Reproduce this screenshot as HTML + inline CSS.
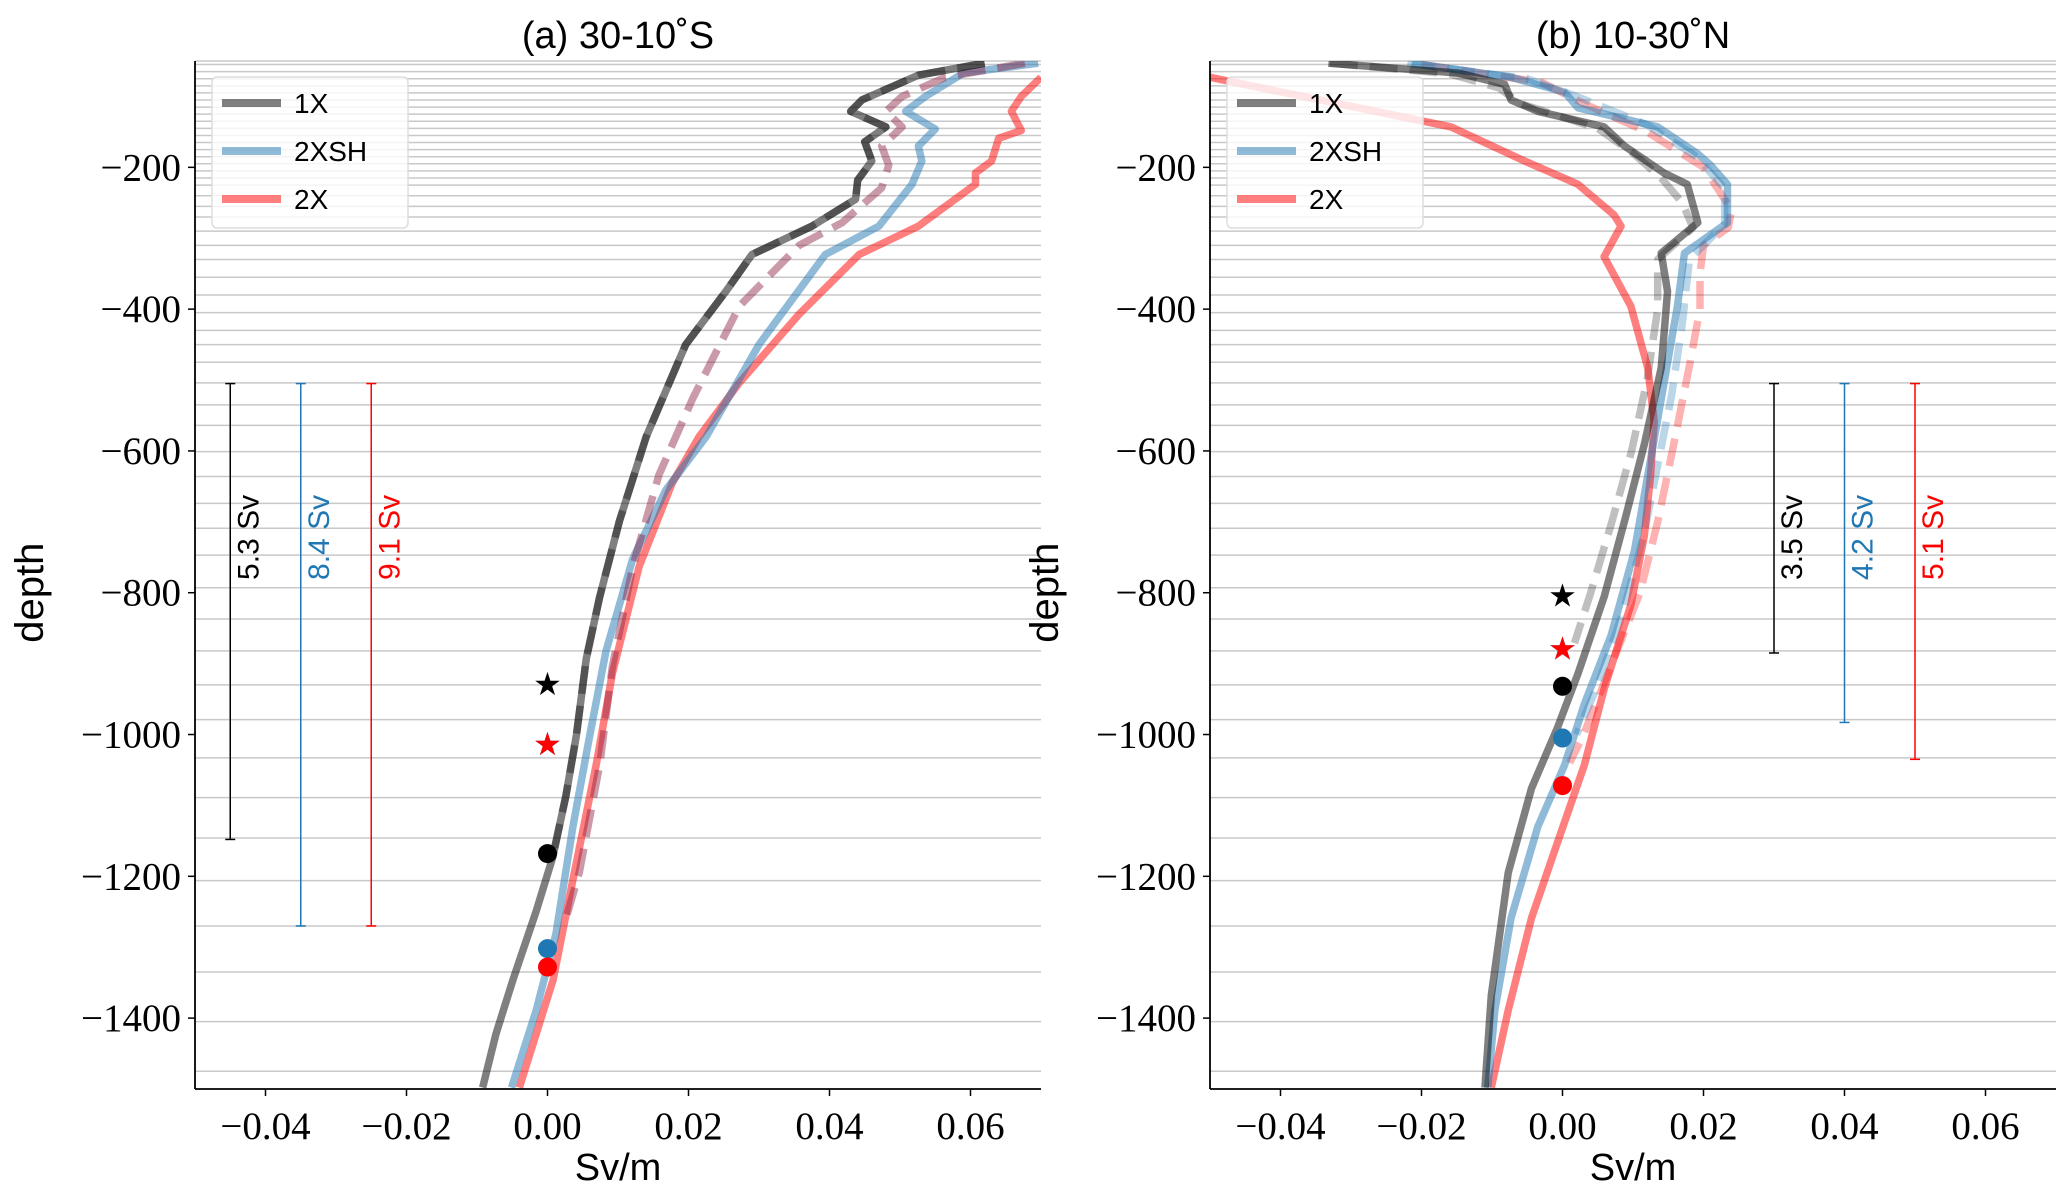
<!DOCTYPE html>
<html><head><meta charset="utf-8"><style>
body{margin:0;background:#fff}
svg text{font-family:"Liberation Sans",sans-serif}
.tick{font-family:"Liberation Serif",serif;font-size:39px}
</style></head><body>
<svg id="c" width="2067" height="1196" xmlns="http://www.w3.org/2000/svg"></svg>
<script>
const levels=[55,65,75,85,95,105,115,125,135,145,155,165,175,185,195,205,215,225,240,255,270,290,310,330,355,380,405,430,450,475,504,535,564,601,636,674,709,747,793,837,882,930,979,1033,1089,1146,1206,1270,1335,1405,1475];
const xTicks=[-0.04,-0.02,0,0.02,0.04,0.06];
const xTickLabels=['\u22120.04','\u22120.02','0.00','0.02','0.04','0.06'];
const yTicks=[-200,-400,-600,-800,-1000,-1200,-1400];
const yTickLabels=['\u2212200','\u2212400','\u2212600','\u2212800','\u22121000','\u22121200','\u22121400'];
// left panel series: [x, depth]
const a1X=[[0.062,-53],[0.0526,-70],[0.0446,-105],[0.043,-121],[0.048,-143],[0.045,-164],[0.046,-191],[0.044,-218],[0.0437,-245],[0.0375,-283],[0.029,-323],[0.0253,-375],[0.0196,-450],[0.014,-580],[0.0102,-699],[0.0074,-806],[0.0055,-893],[0.0041,-1001],[0.0026,-1087],[0.00075,-1173],[-0.0016,-1249],[-0.0049,-1346],[-0.0073,-1422],[-0.0092,-1498]];
const a1Xd=[[0.062,-53],[0.0526,-70],[0.0446,-105],[0.043,-121],[0.048,-143],[0.045,-164],[0.046,-191],[0.044,-218],[0.0437,-245],[0.0375,-283],[0.029,-323],[0.0253,-375],[0.0196,-450],[0.014,-580],[0.0102,-699],[0.0074,-806],[0.0055,-893],[0.0041,-1001],[0.0026,-1087],[0.001,-1160]];
const a2XSH=[[0.0696,-53],[0.059,-67],[0.0536,-100],[0.0508,-121],[0.055,-146],[0.0526,-170],[0.0531,-191],[0.0517,-224],[0.047,-283],[0.0394,-323],[0.03,-450],[0.0225,-580],[0.0168,-655],[0.0121,-752],[0.0083,-882],[0.006,-1001],[0.0036,-1130],[0.0012,-1281],[-0.0016,-1389],[-0.0051,-1498]];
const a2X=[[0.07,-73],[0.0672,-100],[0.0658,-121],[0.0672,-148],[0.064,-159],[0.063,-191],[0.0607,-208],[0.0607,-224],[0.0526,-283],[0.0442,-323],[0.0357,-407],[0.0272,-504],[0.0215,-580],[0.0177,-645],[0.013,-763],[0.0092,-914],[0.0069,-1043],[0.0036,-1205],[0.0008,-1346],[-0.004,-1498]];
const a2Xd=[[0.0677,-53],[0.0564,-73],[0.0503,-100],[0.048,-121],[0.0503,-143],[0.0474,-170],[0.0484,-197],[0.0474,-229],[0.0418,-278],[0.0357,-310],[0.0272,-396],[0.0206,-526],[0.0158,-634],[0.0121,-763],[0.0092,-904],[0.0074,-1043],[0.0045,-1195],[0.0026,-1260]];
// right panel series
const b1X=[[-0.0332,-53],[-0.0148,-67],[-0.0082,-83],[-0.0073,-105],[-0.0035,-121],[0.0059,-143],[0.0088,-170],[0.0144,-208],[0.0177,-224],[0.0192,-278],[0.014,-321],[0.0149,-375],[0.014,-483],[0.0116,-591],[0.0088,-699],[0.0059,-806],[0.0022,-914],[-0.0007,-990],[-0.0044,-1076],[-0.0077,-1195],[-0.0101,-1368],[-0.011,-1498]];
const b1Xd=[[-0.033,-53],[-0.016,-68],[-0.009,-88],[-0.006,-110],[0.005,-145],[0.01,-180],[0.014,-215],[0.017,-250],[0.0185,-285],[0.0135,-330],[0.0135,-400],[0.012,-500],[0.0098,-600],[0.007,-700],[0.004,-800],[0.0017,-871]];
const b2XSH=[[-0.0214,-53],[-0.0073,-73],[0.0003,-94],[0.0022,-116],[0.0135,-143],[0.0192,-181],[0.021,-197],[0.0234,-224],[0.0234,-278],[0.0173,-321],[0.0163,-396],[0.0144,-504],[0.0125,-612],[0.0102,-741],[0.0069,-860],[0.0031,-957],[0.0003,-1043],[-0.0035,-1130],[-0.0073,-1259],[-0.0096,-1389],[-0.0106,-1498]];
const b2XSHd=[[-0.022,-53],[-0.005,-75],[0.002,-100],[0.012,-140],[0.019,-185],[0.023,-230],[0.023,-280],[0.018,-330],[0.017,-420],[0.0155,-520],[0.0135,-620],[0.0115,-720],[0.0085,-830],[0.005,-930],[0.002,-1000]];
const b2X=[[-0.05,-73],[-0.0158,-143],[-0.0054,-191],[0.0022,-224],[0.0073,-267],[0.0083,-283],[0.0059,-326],[0.0097,-396],[0.0121,-483],[0.013,-558],[0.0125,-634],[0.0116,-720],[0.0097,-817],[0.0059,-936],[0.0031,-1043],[-0.0007,-1152],[-0.0044,-1259],[-0.0077,-1389],[-0.0101,-1498]];
const b2Xd=[[-0.02,-55],[-0.003,-80],[0.003,-110],[0.012,-150],[0.02,-200],[0.024,-260],[0.0235,-285],[0.02,-310],[0.0195,-350],[0.0195,-400],[0.018,-480],[0.016,-580],[0.0135,-700],[0.011,-800],[0.007,-900],[0.003,-1000],[0.001,-1040]];
// error bars [x, top, bottom, label]
const aBars=[[-0.045,-505,-1148,'5.3 Sv'],[-0.035,-505,-1270,'8.4 Sv'],[-0.025,-505,-1270,'9.1 Sv']];
const bBars=[[0.03,-505,-885,'3.5 Sv'],[0.04,-505,-983,'4.2 Sv'],[0.05,-505,-1035,'5.1 Sv']];
// markers [depth]
const aStars=[-930,-1015,-1015];const aDots=[-1168,-1302,-1328];
const bStars=[-805,-880,-880];const bDots=[-932,-1005,-1072];
const mColors=['#000','#1f77b4','#ff0000'];
const barColors=['#000','#1f77b4','#ff0000'];

const svg=document.getElementById('c');const NS='http://www.w3.org/2000/svg';
function mk(t,at,p){const e=document.createElementNS(NS,t);for(const k in at)e.setAttribute(k,at[k]);(p||svg).appendChild(e);return e;}
function panel(L,title,series,bars,stars,dots,id){
 const R=L+846,T=61,B=1089;
 const X=v=>L+(v+0.05)/0.12*846, Y=d=>T+(-50-d)/1450*(B-T);
 const g=mk('g',{});
 const cp=mk('clipPath',{id:'cl'+id},g);mk('rect',{x:L,y:T,width:846,height:B-T},cp);
 levels.forEach(l=>{const e=mk('line',{x1:L,x2:R,y1:Y(-l),y2:Y(-l),stroke:'#c8c8c8','stroke-width':1.5},g);});
 mk('line',{x1:L,x2:R,y1:T,y2:T,stroke:'#c8c8c8','stroke-width':1.5},g);
 const sg=mk('g',{'clip-path':'url(#cl'+id+')'},g);
 series.forEach(s=>{const e=mk('polyline',{points:s.d.map(p=>X(p[0])+','+Y(p[1])).join(' '),fill:'none',stroke:s.c,'stroke-opacity':s.o,'stroke-width':7.5,'stroke-dasharray':s.dash||'none','stroke-linejoin':'round'},sg);});
 bars.forEach((b,i)=>{const x=X(b[0]),c=barColors[i];
  const e=mk('g',{},g);
  mk('line',{x1:x,x2:x,y1:Y(b[1]),y2:Y(b[2]),stroke:c,'stroke-width':1.5},e);
  mk('line',{x1:x-5,x2:x+5,y1:Y(b[1]),y2:Y(b[1]),stroke:c,'stroke-width':1.5},e);
  mk('line',{x1:x-5,x2:x+5,y1:Y(b[2]),y2:Y(b[2]),stroke:c,'stroke-width':1.5},e);
  const t=mk('text',{x:0,y:0,transform:`translate(${x+28},${Y(-662)}) rotate(-90)`,'text-anchor':'end','font-size':30,fill:c},e);t.textContent=b[3];});
 const x0=X(0);
 stars.forEach((d,i)=>{const e=mk('text',{x:x0,y:Y(d)+10,'text-anchor':'middle','font-size':32,fill:mColors[i]},g);e.textContent='\u2605';});
 dots.forEach((d,i)=>{const e=mk('circle',{cx:x0,cy:Y(d),r:9.5,fill:mColors[i]},g);});
 mk('line',{x1:L,x2:L,y1:T,y2:B,stroke:'#000','stroke-width':1.8},g);
 mk('line',{x1:L,x2:R,y1:B,y2:B,stroke:'#000','stroke-width':1.8},g);
 xTicks.forEach((v,i)=>{mk('line',{x1:X(v),x2:X(v),y1:B,y2:B+7,stroke:'#000','stroke-width':1.5},g);const t=mk('text',{x:X(v),y:B+50,'text-anchor':'middle',class:'tick'},g);t.textContent=xTickLabels[i];});
 yTicks.forEach((v,i)=>{mk('line',{x1:L-7,x2:L,y1:Y(v),y2:Y(v),stroke:'#000','stroke-width':1.5},g);const t=mk('text',{x:L-14,y:Y(v)+13,'text-anchor':'end',class:'tick'},g);t.textContent=yTickLabels[i];});
 let t=mk('text',{x:(L+R)/2,y:1180,'text-anchor':'middle','font-size':38},g);t.textContent='Sv/m';
 t=mk('text',{x:0,y:0,transform:`translate(${L-152},${Y(-800)}) rotate(-90)`,'text-anchor':'middle','font-size':40},g);t.textContent='depth';
 t=mk('text',{x:(L+R)/2,y:48,'text-anchor':'middle','font-size':38},g);t.textContent=title;
 const lg=mk('g',{},g);
 mk('rect',{x:L+17,y:77,width:196,height:151,rx:5,fill:'#fff','fill-opacity':0.8,stroke:'#ddd','stroke-width':1.5},lg);
 [['1X','#000',0.5],['2XSH','#1f77b4',0.5],['2X','#ff0000',0.5]].forEach((e,i)=>{const y=103+i*48;
  const en=mk('g',{},lg);
  mk('line',{x1:L+27,x2:L+86,y1:y,y2:y,stroke:e[1],'stroke-opacity':e[2],'stroke-width':8},en);
  const tt=mk('text',{x:L+99,y:y+10,'font-size':28},en);tt.textContent=e[0];});
}
const G='#000',BL='#1f77b4',RD='#ff0000';
panel(195,'(a) 30-10\u02daS',[
 {d:a2X,c:RD,o:0.5,n:'line-2X'},{d:a2XSH,c:BL,o:0.5,n:'line-2XSH'},
 {d:a2Xd,c:'#8b2040',o:0.45,dash:'28 12',n:'dashed-line-2X'},
 {d:a1X,c:G,o:0.5,n:'line-1X'},{d:a1Xd,c:G,o:0.35,dash:'28 12',n:'dashed-line-1X'}],aBars,aStars,aDots,'panel-a');
panel(1210,'(b) 10-30\u02daN',[
 {d:b2Xd,c:RD,o:0.3,dash:'28 12',n:'dashed-line-2X'},{d:b2XSHd,c:BL,o:0.3,dash:'28 12',n:'dashed-line-2XSH'},
 {d:b1Xd,c:G,o:0.25,dash:'28 12',n:'dashed-line-1X'},
 {d:b2X,c:RD,o:0.5,n:'line-2X'},{d:b2XSH,c:BL,o:0.5,n:'line-2XSH'},{d:b1X,c:G,o:0.5,n:'line-1X'}],bBars,bStars,bDots,'panel-b');
</script>
</body></html>
